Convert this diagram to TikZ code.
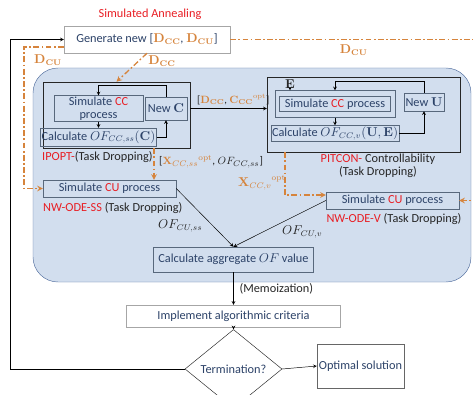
\documentclass[tikz,border=0pt]{standalone}
\usepackage{amsmath,amssymb}
\usepackage[no-math]{fontspec}
\setmainfont{Carlito}
\usetikzlibrary{shapes,arrows}

\definecolor{sared}{RGB}{232,30,36}
\definecolor{saorange}{RGB}{214,132,60}
\definecolor{txtblue}{RGB}{44,66,104}
\definecolor{boxline}{RGB}{88,104,124}
\definecolor{safill}{RGB}{210,222,238}
\definecolor{saline}{RGB}{84,112,160}

\begin{document}
\begin{tikzpicture}[x=0.03cm,y=-0.03cm,
	every node/.style={font=\fontsize{10.5}{11}\selectfont},
	wh/.style 2 args={minimum width=#1*0.03cm,minimum height=#2*0.03cm},
	wbox/.style={draw=black!35,fill=white,text=txtblue,inner sep=1pt},
	pbox/.style={draw=boxline,text=txtblue,inner sep=1pt},
	ccbox/.style={draw=black!85,thin},
	region/.style={draw=saline,fill=safill,rounded corners=0.75cm},
	lbl/.style={inner sep=0pt,text=black!85},
	arr/.style={->,>=stealth,black,thin},
	orarr/.style={->,>=stealth,saorange,line width=1.1pt,dash pattern=on 5pt off 2pt on 1.5pt off 2pt}]
	\useasboundingbox (0,0) rectangle (473,395);

	\node[lbl,text=sared] (title) at (150,14) {Simulated Annealing};
	\node[wbox,wh={166}{27}] (gen) at (147,39.5) {Generate new [$\color{saorange}\mathbf{D}_{\mathbf{CC}}$, $\color{saorange}\mathbf{D}_{\mathbf{CU}}$]};
	\node[region,wh={438}{214}] (sa) at (252,175) {};

	% IPOPT block
	\node[ccbox,wh={147}{66}] (ccf) at (116.5,115) {};
	\node[pbox,wh={89}{25},align=center] (simcc) at (98.5,108.5) {Simulate \textcolor{sared}{CC}\\process};
	\node[pbox,wh={42}{23}] (newc) at (166,108.5) {New $\mathbf{C}$};
	\node[pbox,wh={107}{18}] (calcss) at (98.5,137) {Calculate $OF_{CC,ss}(\mathbf{C})$};
	\node[lbl,anchor=west] (ipopt) at (42,157) {\textcolor{sared}{IPOPT-}(Task Dropping)};

	% PITCON block
	\node[ccbox,wh={193}{75}] (pitf) at (363.5,114.5) {};
	\node[pbox,wh={120}{27}] (simccvo) at (335,104) {};
	\node[pbox,wh={111}{15}] (simccv) at (335,104) {Simulate \textcolor{sared}{CC} process};
	\node[pbox,wh={40}{18}] (newu) at (424,102) {New $\mathbf{U}$};
	\node[pbox,wh={116}{16}] (calcv) at (335,133.5) {Calculate $OF_{CC,v}(\mathbf{U},\mathbf{E})$};
	\node[lbl] (E) at (290,84) {$\mathbf{E}$};
	\node[lbl,align=center] (pitcon) at (378,166) {\textcolor{sared}{PITCON-} Controllability\\(Task Dropping)};
	\coordinate (ptop) at (424,81);

	% CU blocks and the rest
	\node[pbox,wh={133}{17}] (cuss) at (109.5,188.5) {Simulate \textcolor{sared}{CU} process};
	\node[lbl,anchor=west] (nwss) at (43,208) {\textcolor{sared}{NW-ODE-SS} (Task Dropping)};
	\node[pbox,wh={133}{17}] (cuv) at (392.5,200.5) {Simulate \textcolor{sared}{CU} process};
	\node[lbl] (nwv) at (394,219) {\textcolor{sared}{NW-ODE-V} (Task Dropping)};
	\node[pbox,wh={160}{25}] (agg) at (233.5,259.5) {Calculate aggregate $OF$ value};
	\node[wbox,wh={214}{22}] (impl) at (233.5,316) {Implement algorithmic criteria};
	\node[diamond,draw=black!85,text=txtblue,wh={97}{60},inner sep=1pt] (term) at (233.5,369) {Termination?};
	\node[wbox,draw=black!60,wh={87}{44}] (opt) at (360.5,366) {Optimal solution};

	\draw[arr] (newc.north) |- (simcc.north |- 0,85) -- (simcc.north);
	\draw[arr] (simcc.south) -- (calcss.north);
	\draw[arr] (calcss.east) -| (newc.south);
	\draw[arr] (newu.north) -- (ptop) -| (simccvo.north);
	\draw[arr] (simccvo.south) -- (calcv.north);
	\draw[arr] (calcv.east) -| (newu.south);
	\draw[arr] (E.south) -- (E.south |- simccvo.north);
	\draw[arr] (ccf.east |- newc) -- node[lbl,above=3pt,xshift=4pt,font=\fontsize{9}{10}\selectfont] {[$\color{saorange}\mathbf{D}_{\mathbf{CC}}$, $\color{saorange}{\mathbf{C}_{\mathbf{CC}}}^{\mathrm{opt}}$]} (pitf.west |- newc);

	\draw[arr] (cuss.east) -- node[lbl,anchor=north east,inner sep=2pt] {$OF_{CU,ss}$} (agg.north);
	\draw[arr] (cuv.west) -- node[lbl,anchor=north west,inner sep=2pt] {$OF_{CU,v}$} (agg.north);
	\draw[arr] (agg.south) -- node[lbl,right=5pt] {(Memoization)} (impl.north);
	\draw[arr] (impl.south) -- (term.north);
	\draw[arr] (term.east) -- (opt.west);
	\draw[arr] (term.west) -- (10,369) |- (gen.west);

	\draw[orarr] (gen.west |- 0,47) -| (cuss.west -| 24,0) -- (cuss.west);
	\node[lbl,text=saorange] (dculeft) at (48,60) {$\mathbf{D}_{\mathbf{CU}}$};
	\draw[orarr] (gen.south) -- (ccf.north);
	\node[lbl,text=saorange] (dcc) at (162,61) {$\mathbf{D}_{\mathbf{CC}}$};
	\draw[orarr] (gen.east) -- node[lbl,text=saorange,below=4pt,pos=0.5] {$\mathbf{D}_{\mathbf{CU}}$} (477,39.5) |- (cuv.east);
	\draw[orarr] (ccf.south -| 154,0) -- (cuss.north -| 154,0);
	\node[lbl,anchor=west,font=\fontsize{9.5}{10}\selectfont] (xss) at (159,162) {[$\color{saorange}{\mathbf{X}_{CC,ss}}^{\mathrm{opt}}$, $OF_{CC,ss}$]};
	\draw[orarr] (pitf.south -| 285,0) |- (cuv.west |- 0,195);
	\node[lbl,text=saorange] (xv) at (262,183) {${\mathbf{X}_{CC,v}}^{\mathrm{opt}}$};
\end{tikzpicture}
\end{document}
